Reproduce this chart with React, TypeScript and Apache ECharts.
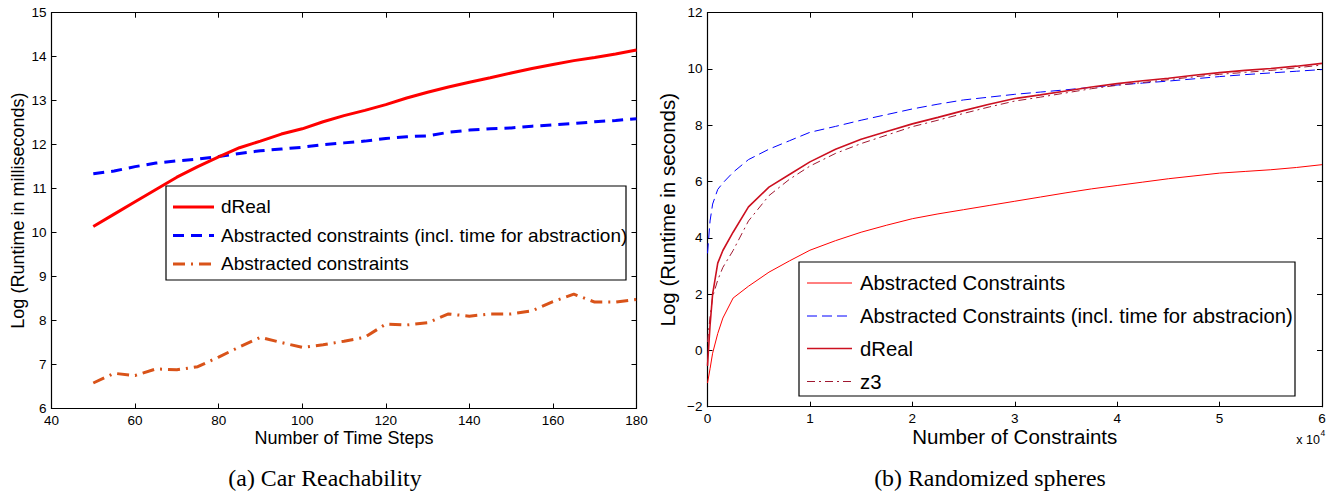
import React, { useEffect, useRef } from "react";
import * as echarts from "echarts";

// ---------- (a) Car Reachability ----------
const timeSteps = [50, 55, 60, 65, 70, 75, 80, 85, 90, 95, 100, 105, 110, 115, 120, 125, 130, 135, 140, 145, 150, 155, 160, 165, 170, 175, 180];
const carDReal = [10.14, 10.42, 10.70, 10.98, 11.26, 11.50, 11.72, 11.93, 12.08, 12.24, 12.36, 12.52, 12.66, 12.78, 12.91, 13.06, 13.19, 13.31, 13.42, 13.52, 13.63, 13.73, 13.82, 13.91, 13.98, 14.06, 14.15];
const carAbstrIncl = [11.34, 11.40, 11.50, 11.58, 11.63, 11.67, 11.73, 11.80, 11.86, 11.90, 11.94, 12.00, 12.04, 12.08, 12.14, 12.18, 12.20, 12.28, 12.33, 12.36, 12.38, 12.42, 12.45, 12.48, 12.52, 12.55, 12.59];
const carAbstr = [6.58, 6.80, 6.75, 6.90, 6.88, 6.95, 7.17, 7.40, 7.62, 7.50, 7.39, 7.45, 7.53, 7.62, 7.92, 7.90, 7.95, 8.15, 8.10, 8.15, 8.15, 8.22, 8.43, 8.60, 8.42, 8.42, 8.48];
const carLegend = ["dReal", "Abstracted constraints (incl. time for abstraction)", "Abstracted constraints"];

// ---------- (b) Randomized spheres ----------
const numConstraints = [0, 250, 500, 1000, 1500, 2500, 4000, 6000, 8000, 10000, 12500, 15000, 17500, 20000, 22500, 25000, 27500, 30000, 32500, 35000, 37500, 40000, 42500, 45000, 47500, 50000, 52500, 55000, 57500, 60000];
const sphAbstr = [-1.16, -0.65, -0.1, 0.6, 1.15, 1.86, 2.28, 2.78, 3.18, 3.56, 3.9, 4.2, 4.45, 4.68, 4.85, 5.0, 5.15, 5.3, 5.45, 5.6, 5.74, 5.86, 5.98, 6.1, 6.2, 6.3, 6.36, 6.42, 6.5, 6.6];
const sphAbstrIncl = [3.45, 4.6, 5.2, 5.72, 5.95, 6.33, 6.78, 7.15, 7.45, 7.75, 7.96, 8.18, 8.38, 8.58, 8.75, 8.9, 9.0, 9.1, 9.18, 9.26, 9.35, 9.43, 9.5, 9.57, 9.65, 9.73, 9.8, 9.86, 9.92, 9.98];
const sphDReal = [-0.55, 0.9, 2.0, 3.1, 3.55, 4.2, 5.1, 5.8, 6.25, 6.7, 7.15, 7.5, 7.78, 8.05, 8.28, 8.52, 8.75, 8.95, 9.08, 9.22, 9.36, 9.48, 9.58, 9.67, 9.78, 9.87, 9.95, 10.02, 10.1, 10.2];
const sphZ3 = [0.3, 1.2, 1.9, 2.5, 2.95, 3.55, 4.6, 5.5, 6.08, 6.55, 7.0, 7.35, 7.65, 7.95, 8.18, 8.42, 8.65, 8.86, 9.0, 9.15, 9.3, 9.42, 9.52, 9.62, 9.72, 9.81, 9.88, 9.95, 10.04, 10.14];
const sphLegend = ["Abstracted Constraints", "Abstracted Constraints (incl. time for abstracion)", "dReal", "z3"];

const captions = ["(a) Car Reachability", "(b) Randomized spheres"];
const axisTitles = ["Number of Time Steps", "Log (Runtime in milliseconds)", "Number of Constraints", "Log (Runtime in seconds)"];

const SANS = "'Liberation Sans', Arial, Helvetica, sans-serif";
const SERIF = "'Liberation Serif', 'Times New Roman', serif";

const pairs = (xs: number[], ys: number[]) => xs.map((x, i) => [x, ys[i]]);

export default function App() {
  const ref = useRef<HTMLDivElement>(null);
  useEffect(() => {
    if (!ref.current) return;
    const chart = echarts.init(ref.current, null, { renderer: "svg" });

    const axisLine = { show: true, onZero: false, lineStyle: { color: "#000", width: 1.2 } };
    const tick = { show: true, inside: true, length: 5, lineStyle: { color: "#000", width: 1 } };
    const label = { color: "#000", fontSize: 13.5, fontFamily: SANS };
    const minus = (v: number) => (v < 0 ? "\u2212" + Math.abs(v) : String(v));

    const mkX = (gi: number, min: number, max: number, interval: number, pos: string, name?: string, fs?: number, gap?: number, fmt?: any) => ({
      type: "value", gridIndex: gi, min, max, interval, position: pos,
      axisLine, axisTick: tick, splitLine: { show: false },
      axisLabel: name ? { ...label, margin: 5, formatter: fmt } : { show: false },
      name: name || "", nameLocation: "middle", nameGap: gap || 0,
      nameTextStyle: { color: "#000", fontSize: fs || 18, fontFamily: SANS }, nameMoveOverlap: false,
    });
    const mkY = (gi: number, min: number, max: number, interval: number, pos: string, name?: string, fs?: number, gap?: number) => ({
      type: "value", gridIndex: gi, min, max, interval, position: pos,
      axisLine, axisTick: tick, splitLine: { show: false },
      axisLabel: name ? { ...label, margin: 5, formatter: minus } : { show: false },
      name: name || "", nameLocation: "middle", nameGap: gap || 0, nameRotate: 90,
      nameTextStyle: { color: "#000", fontSize: fs || 18, fontFamily: SANS }, nameMoveOverlap: false,
    });

    const legendGraphic = (
      x: number, y: number, w: number, h: number, rows: number[], names: string[],
      styles: any[], lx1: number, lx2: number, tx: number, fs: number, sx: number
    ) => {
      const els: any[] = [{ type: "rect", shape: { x, y, width: w, height: h }, style: { fill: "#fff", stroke: "#000", lineWidth: 1.2 }, z: 100 }];
      names.forEach((n, i) => {
        els.push({ type: "line", shape: { x1: lx1, y1: rows[i], x2: lx2, y2: rows[i] }, style: { ...styles[i], fill: null }, z: 101 });
        els.push({ type: "text", x: tx, y: rows[i], scaleX: sx, style: { text: n, fontSize: fs, fontFamily: SANS, fill: "#000", verticalAlign: "middle", align: "left" }, z: 101 });
      });
      return els;
    };

    const carStyles = [
      { stroke: "#ff0000", lineWidth: 3 },
      { stroke: "#0000ff", lineWidth: 3, lineDash: [11, 7] },
      { stroke: "#d95319", lineWidth: 3, lineDash: [12, 6, 2, 6] },
    ];
    const sphStyles = [
      { stroke: "#ff0000", lineWidth: 1 },
      { stroke: "#0000ff", lineWidth: 1, lineDash: [10, 5] },
      { stroke: "#cc1020", lineWidth: 1.6 },
      { stroke: "#a01830", lineWidth: 1, lineDash: [8, 4, 2, 4] },
    ];

    chart.setOption({
      animation: false,
      backgroundColor: "#fff",
      grid: [
        { left: 51.5, top: 12.7, width: 585, height: 395.8, outerBoundsMode: "none" },
        { left: 707.5, top: 12.7, width: 614.5, height: 394, outerBoundsMode: "none" },
      ],
      xAxis: [
        mkX(0, 40, 180, 20, "bottom", axisTitles[0], 18, 20),
        mkX(0, 40, 180, 20, "top"),
        mkX(1, 0, 60000, 10000, "bottom", axisTitles[2], 20.5, 19, (v: number) => String(v / 10000)),
        mkX(1, 0, 60000, 10000, "top"),
      ],
      yAxis: [
        mkY(0, 6, 15, 1, "left", axisTitles[1], 18, 24.5),
        mkY(0, 6, 15, 1, "right"),
        mkY(1, -2, 12, 2, "left", axisTitles[3], 20.5, 30),
        mkY(1, -2, 12, 2, "right"),
      ],
      series: [
        { type: "line", name: carLegend[0], xAxisIndex: 0, yAxisIndex: 0, data: pairs(timeSteps, carDReal), symbol: "none", lineStyle: { color: "#ff0000", width: 3 }, z: 3 },
        { type: "line", name: carLegend[1], xAxisIndex: 0, yAxisIndex: 0, data: pairs(timeSteps, carAbstrIncl), symbol: "none", lineStyle: { color: "#0000ff", width: 3, type: [11, 7] }, z: 2 },
        { type: "line", name: carLegend[2], xAxisIndex: 0, yAxisIndex: 0, data: pairs(timeSteps, carAbstr), symbol: "none", lineStyle: { color: "#d95319", width: 3, type: [12, 6, 2, 6] }, z: 2 },
        { type: "line", name: sphLegend[0], xAxisIndex: 2, yAxisIndex: 2, data: pairs(numConstraints, sphAbstr), symbol: "none", lineStyle: { color: "#ff0000", width: 1 }, z: 2 },
        { type: "line", name: sphLegend[1], xAxisIndex: 2, yAxisIndex: 2, data: pairs(numConstraints, sphAbstrIncl), symbol: "none", lineStyle: { color: "#0000ff", width: 1, type: [10, 5] }, z: 2 },
        { type: "line", name: sphLegend[2] + " (b)", xAxisIndex: 2, yAxisIndex: 2, data: pairs(numConstraints, sphDReal), symbol: "none", lineStyle: { color: "#cc1020", width: 1.6 }, z: 3 },
        { type: "line", name: sphLegend[3], xAxisIndex: 2, yAxisIndex: 2, data: pairs(numConstraints, sphZ3), symbol: "none", lineStyle: { color: "#a01830", width: 1, type: [8, 4, 2, 4] }, z: 2 },
      ],
      graphic: [
        ...legendGraphic(166, 186, 460, 94, [207, 235.5, 264], carLegend, carStyles, 173, 214, 221, 18, 1.055),
        ...legendGraphic(799, 262, 496, 134, [283, 316, 348.5, 381.5], sphLegend, sphStyles, 807, 852, 860, 20.3, 1),
        { type: "text", x: 325, y: 478, scaleX: 1.06, style: { text: captions[0], fontSize: 22.5, fontFamily: SERIF, fill: "#000", align: "center", verticalAlign: "middle" } },
        { type: "text", x: 990, y: 478, scaleX: 1.06, style: { text: captions[1], fontSize: 22.5, fontFamily: SERIF, fill: "#000", align: "center", verticalAlign: "middle" } },
        { type: "text", x: 1320, y: 440, style: { text: "x 10", fontSize: 12.5, fontFamily: SANS, fill: "#000", align: "right", verticalAlign: "middle" } },
        { type: "text", x: 1320.5, y: 433, style: { text: "4", fontSize: 8.5, fontFamily: SANS, fill: "#000", align: "left", verticalAlign: "middle" } },
      ],
    });
    return () => chart.dispose();
  }, []);
  return <div ref={ref} style={{ position: "absolute", left: 0, top: 0, width: 1333, height: 493, background: "#fff" }} />;
}
